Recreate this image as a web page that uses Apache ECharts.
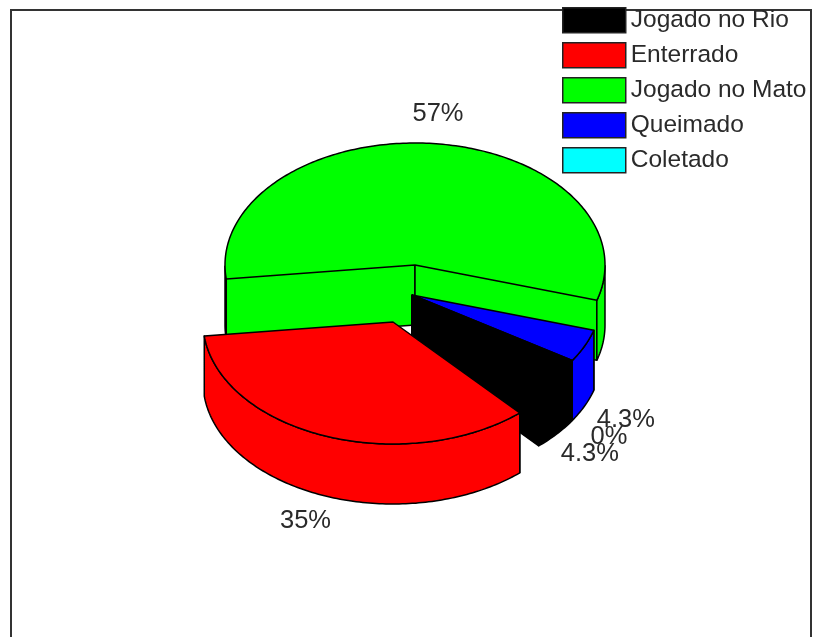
<!DOCTYPE html>
<html>
<head>
<meta charset="utf-8">
<style>html,body{margin:0;padding:0;background:#fff}#c{width:813px;height:637px}</style>
<script src="https://cdn.jsdelivr.net/npm/echarts@6/dist/echarts.min.js"></script>
</head>
<body>
<div id="c"></div>
<script>
// Data
const categories = ['Jogado no Rio', 'Enterrado', 'Jogado no Mato', 'Queimado', 'Coletado'];
const counts = [2, 16, 26, 2, 0];
const colors = ['#000000', '#ff0000', '#00ff00', '#0000ff', '#00ffff'];

// Style / projection of the drawing
const FONT = '"Liberation Sans", Arial, sans-serif';
const FS = 24.5;
const LABEL_FS = 25.5;
const RX = 190, RY = 122, DEPTH = 60, CX = 415, CY = 265;
const START_ANGLE = 32.5;               // clockwise from 3 o'clock, first category
const explode = [[-3, 30], [-22, 57], [0, 0], [-3, 30], [-3, 30]];
const labelNudge = [[2.5, 3], [-6, 1], [2.5, -4], [5, 3], [3, 3]];
const LABEL_K = 1.21;
const drawOrder = [2, 3, 4, 0, 1];

const total = counts.reduce((a, b) => a + b, 0);
const spans = [];
{ let a = START_ANGLE;
  counts.forEach(v => { const b = a + v / total * 360; spans.push([a, b]); a = b; }); }
const rad = d => d * Math.PI / 180;

function sampleAngles(a, b) {
  const out = [];
  for (let t = a; t < b; t += 1) out.push(t);
  out.push(b);
  return out;
}

function makeRender(idx) {
  return function (params, api) {
    const [a, b] = spans[idx];
    const ox = CX + explode[idx][0], oy = CY + explode[idx][1];
    const fill = api.visual('color');
    const pt = (t, d) => [ox + RX * Math.cos(rad(t)), oy + RY * Math.sin(rad(t)) + (d || 0)];
    const style = { fill, stroke: '#000', lineWidth: 1.5, lineJoin: 'round' };
    const edge = { fill: null, stroke: '#000', lineWidth: 1.5, lineJoin: 'round' };
    const children = [];
    const poly = points => children.push({ type: 'polygon', shape: { points }, style });
    const line = points => children.push({ type: 'polyline', shape: { points }, style: edge });
    if (b > a) {
      // radial inner walls
      [a, b].forEach(t => {
        children.push({ type: 'polygon', shape: { points: [[ox, oy], pt(t), pt(t, DEPTH), [ox, oy + DEPTH]] }, style: { fill } });
        line([[ox, oy], [ox, oy + DEPTH], pt(t, DEPTH)]);
        if (Math.cos(rad(t)) > 0) line([pt(t), pt(t, DEPTH)]);
      });
      // outer wall (only the near half of the rim is visible)
      let run = [];
      const flush = () => {
        if (run.length > 1) {
          poly(run.map(t => pt(t)).concat(run.slice().reverse().map(t => pt(t, DEPTH))));
        }
        run = [];
      };
      sampleAngles(a, b).forEach(t => {
        if (Math.sin(rad(t)) >= 0) run.push(t); else flush();
      });
      flush();
      // top face
      poly([[ox, oy]].concat(sampleAngles(a, b).map(t => pt(t))));
    }
    // percentage label
    const mid = rad((a + b) / 2);
    const s = Math.sin(mid);
    const pct = Number((counts[idx] / total * 100).toPrecision(2));
    children.push({
      type: 'text', z2: 100,
      style: {
        x: ox + RX * LABEL_K * Math.cos(mid) + labelNudge[idx][0],
        y: oy + RY * LABEL_K * s + (s > 0 ? DEPTH : 0) + labelNudge[idx][1],
        text: pct + '%', fill: '#2a2a2a', font: LABEL_FS + 'px ' + FONT,
        align: 'center', verticalAlign: 'middle'
      }
    });
    return { type: 'group', children };
  };
}

const chart = echarts.init(document.getElementById('c'), null, { renderer: 'canvas' });
chart.setOption({
  animation: false,
  backgroundColor: '#ffffff',
  graphic: [{
    type: 'polyline', z: 0,
    shape: { points: [[11, 640], [11, 10], [811, 10], [811, 640]] },
    style: { fill: null, stroke: '#333', lineWidth: 2 }
  }],
  legend: {
    orient: 'vertical', left: 562, top: 7, padding: 0,
    itemWidth: 63, itemHeight: 25, itemGap: 8.5,
    icon: 'rect', selectedMode: false,
    data: categories,
    itemStyle: { borderColor: '#222', borderWidth: 1.5 },
    textStyle: { color: '#2a2a2a', fontSize: FS, fontFamily: FONT }
  },
  series: drawOrder.map(i => ({
    type: 'custom',
    name: categories[i],
    coordinateSystem: 'none',
    itemStyle: { color: colors[i] },
    renderItem: makeRender(i),
    data: [[counts[i]]]
  }))
});
</script>
</body>
</html>
